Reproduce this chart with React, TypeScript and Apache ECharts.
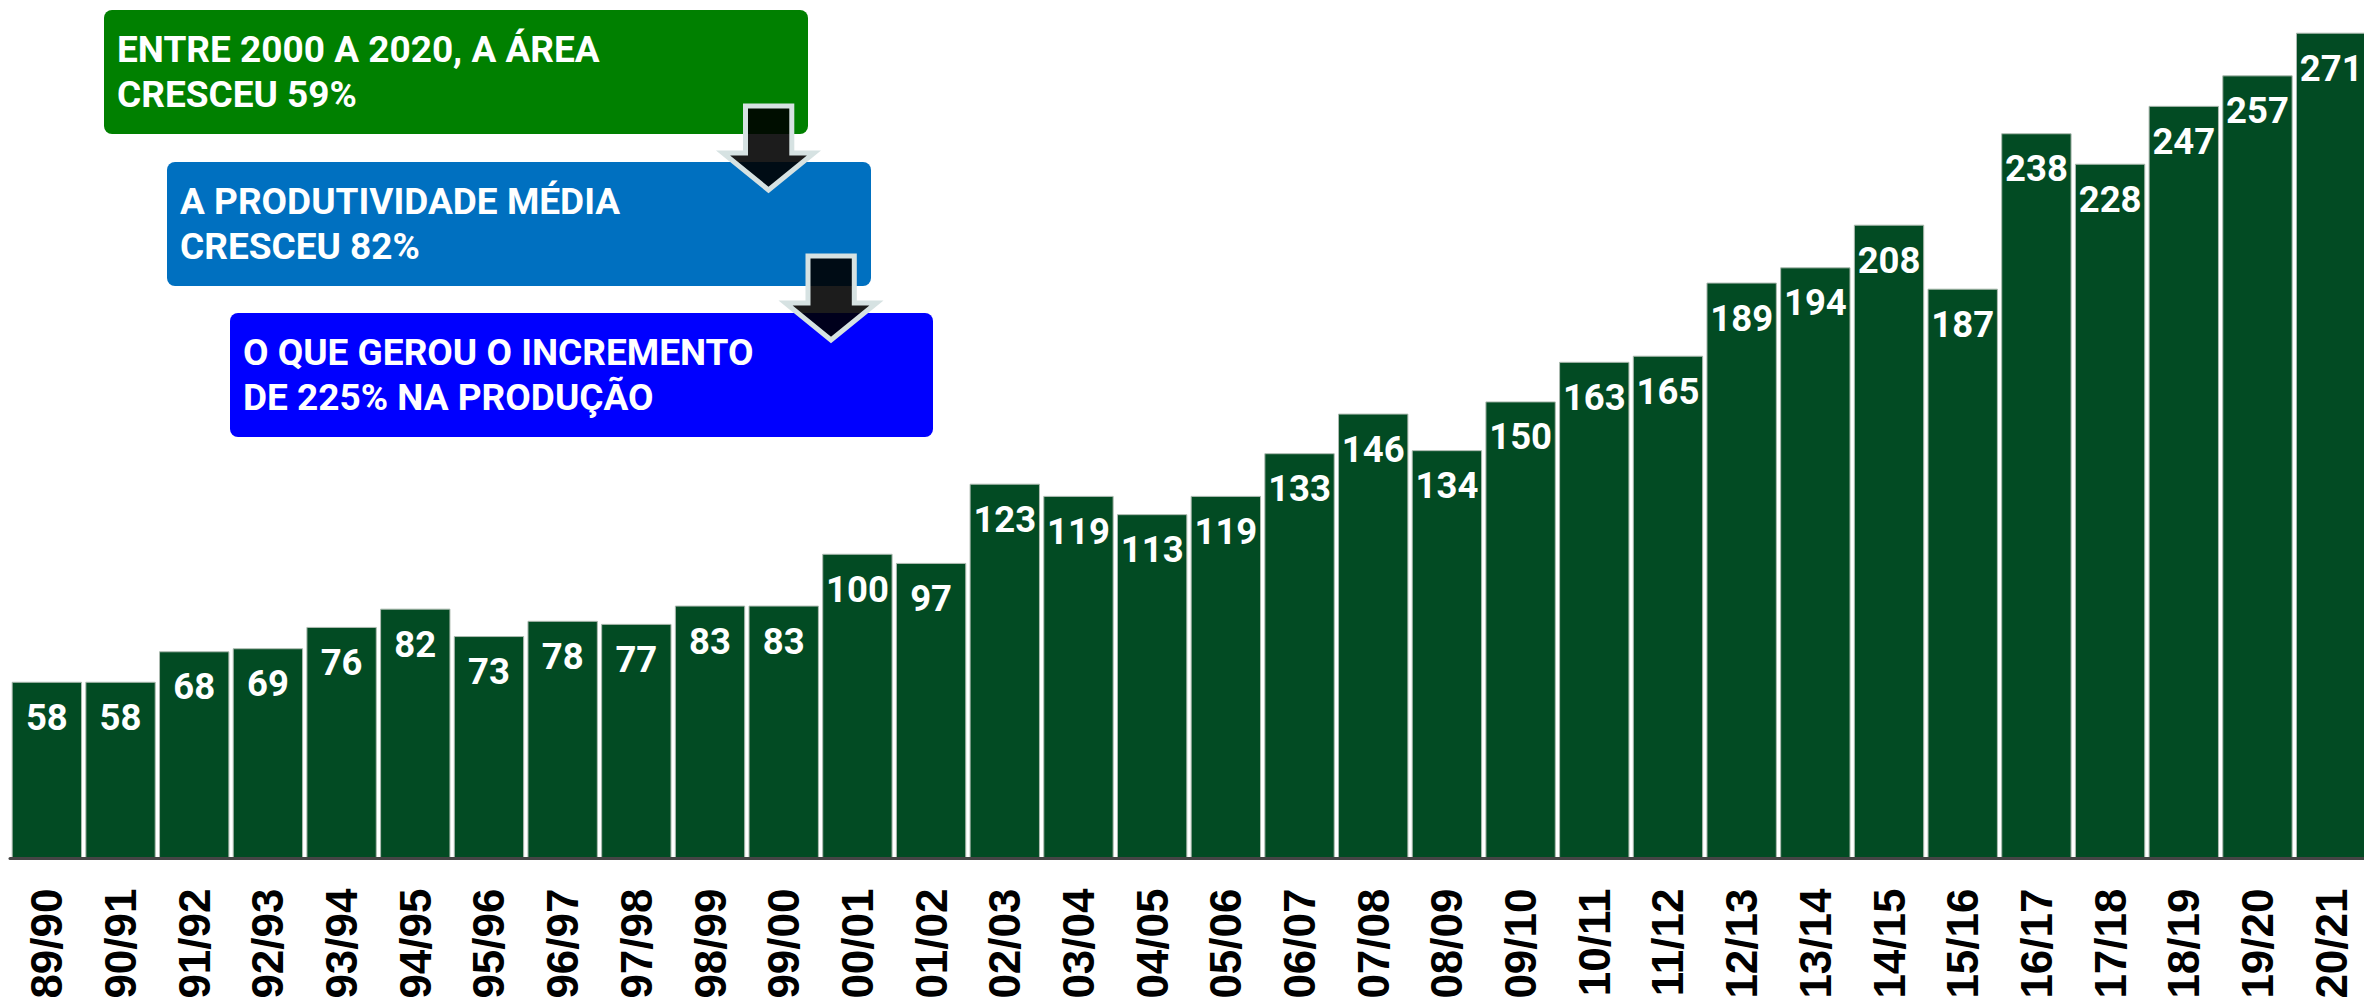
import React, { useEffect, useRef } from "react";
import * as echarts from "echarts";

const categories = [
  "89/90", "90/91", "91/92", "92/93", "93/94", "94/95", "95/96", "96/97",
  "97/98", "98/99", "99/00", "00/01", "01/02", "02/03", "03/04", "04/05",
  "05/06", "06/07", "07/08", "08/09", "09/10", "10/11", "11/12", "12/13",
  "13/14", "14/15", "15/16", "16/17", "17/18", "18/19", "19/20", "20/21",
];
const production = [
  58, 58, 68, 69, 76, 82, 73, 78, 77, 83, 83, 100, 97, 123, 119, 113,
  119, 133, 146, 134, 150, 163, 165, 189, 194, 208, 187, 238, 228, 247, 257, 271,
];

const noteLines = [
  ["ENTRE 2000 A 2020, A ÁREA", "CRESCEU 59%"],
  ["A PRODUTIVIDADE MÉDIA", "CRESCEU 82%"],
  ["O QUE GEROU O INCREMENTO", "DE 225% NA PRODUÇÃO"],
];
const noteColors = ["#008000", "#0070C0", "#0000FF"];

export default function App() {
  const ref = useRef<HTMLDivElement>(null);
  useEffect(() => {
    if (!ref.current) return;
    const chart = echarts.init(ref.current, undefined, { renderer: "svg" });

    const boxes = [
      { x: 104, y: 10, w: 704, h: 124 },
      { x: 167, y: 162, w: 704, h: 124 },
      { x: 230, y: 313, w: 703, h: 124 },
    ];
    const graphics: any[] = [];
    boxes.forEach((b, i) => {
      graphics.push({
        type: "rect",
        shape: { x: b.x, y: b.y, width: b.w, height: b.h, r: 8 },
        style: { fill: noteColors[i] },
        z: 10,
      });
      noteLines[i].forEach((t, j) => {
        graphics.push({
          type: "text",
          x: b.x + 13,
          y: b.y + 39 + j * 45.5,
          style: {
            text: t,
            fill: "#ffffff",
            font: "bold 37px Roboto",
            verticalAlign: "middle",
            align: "left",
          },
          z: 11,
        });
      });
    });
    const arrow = (dx: number, dy: number) => ({
      type: "polygon",
      shape: {
        points: [
          [745.5 + dx, 106 + dy],
          [791.8 + dx, 106 + dy],
          [791.8 + dx, 153 + dy],
          [814 + dx, 153 + dy],
          [768.5 + dx, 190 + dy],
          [723 + dx, 153 + dy],
          [745.5 + dx, 153 + dy],
        ],
      },
      style: {
        fill: "rgba(0,0,0,0.89)",
        stroke: "#d6e2e2",
        lineWidth: 5,
        lineJoin: "miter",
      },
      z: 12,
    });
    graphics.push(arrow(0, 0));
    graphics.push(arrow(62.5, 150));

    chart.setOption({
      animation: false,
      backgroundColor: "#ffffff",
      grid: {
        left: 10,
        top: 32.7,
        width: 2358,
        height: 825.8,
        containLabel: false,
        outerBoundsMode: "none",
      },
      xAxis: {
        type: "category",
        data: categories,
        z: 5,
        axisLine: { show: true, lineStyle: { color: "#454545", width: 3 } },
        axisTick: { show: false },
        axisLabel: {
          interval: 0,
          rotate: 90,
          margin: 30,
          color: "#000000",
          fontSize: 44,
          fontWeight: "bold",
          fontFamily: "Liberation Sans",
        },
        splitLine: { show: false },
      },
      yAxis: {
        type: "value",
        min: 0,
        max: 271,
        show: false,
        splitLine: { show: false },
      },
      series: [
        {
          type: "bar",
          data: production,
          barCategoryGap: "4.5%",
          itemStyle: {
            color: "#024B23",
            borderColor: "#aebbb1",
            borderWidth: 1,
          },
          label: {
            show: true,
            position: "insideTop",
            distance: 17,
            color: "#ffffff",
            fontSize: 36.5,
            fontWeight: "bold",
            fontFamily: "Roboto",
          },
        },
      ],
      graphic: graphics,
    });
    return () => chart.dispose();
  }, []);
  return (
    <div
      ref={ref}
      style={{ position: "absolute", left: 0, top: 0, width: 2364, height: 1004 }}
    />
  );
}
